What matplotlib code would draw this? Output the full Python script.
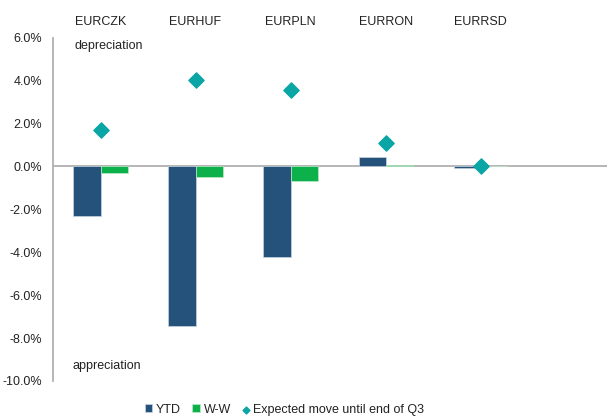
import matplotlib.pyplot as plt
import numpy as np
from matplotlib.ticker import FuncFormatter

plt.rcParams["font.family"] = ["Liberation Sans", "DejaVu Sans"]

pairs = ["EURCZK", "EURHUF", "EURPLN", "EURRON", "EURRSD"]
ytd = [-2.31, -7.44, -4.22, 0.44, -0.05]
ww = [-0.30, -0.49, -0.68, 0.05, 0.0]
expected = [1.70, 4.03, 3.57, 1.10, 0.0]

YTD_COLOR = "#24527a"
WW_COLOR = "#0db14b"
EXP_COLOR = "#0aa5a5"
GRID_GRAY = "#b0b0b0"
FS = 9


def main() -> None:
    fig = plt.figure(figsize=(6.07, 4.19), dpi=100)
    ax = fig.add_axes([0.0873, 0.0907, 0.9127, 0.8191])

    x = np.arange(len(pairs))
    width = 0.285
    b1 = ax.bar(x - width / 2, ytd, width, color=YTD_COLOR, edgecolor="#c8d4e0",
                linewidth=0.5, label="YTD", zorder=2)
    b2 = ax.bar(x + width / 2, ww, width, color=WW_COLOR, edgecolor="#bfe8cc",
                linewidth=0.5, label="W-W", zorder=2)
    sc = ax.scatter(x, expected, marker="D", s=60, color=EXP_COLOR, zorder=3,
                    label="Expected move until end of Q3")

    ax.axhline(0, color=GRID_GRAY, linewidth=1.3, zorder=1)
    ax.set_xlim(-0.5, 5.33)
    ax.set_ylim(-10, 6)
    ax.set_yticks(np.arange(-10, 7, 2))
    ax.yaxis.set_major_formatter(FuncFormatter(lambda v, _: f"{v:.1f}%"))
    ax.tick_params(axis="y", length=0, labelsize=FS, pad=8, colors="#222222")
    ax.set_xticks([])

    for side in ["top", "right", "bottom"]:
        ax.spines[side].set_visible(False)
    ax.spines["left"].set_color(GRID_GRAY)
    ax.spines["left"].set_linewidth(1.3)

    for i, name in enumerate(pairs):
        ax.text(i, 6.75, name, ha="center", va="center", fontsize=FS,
                color="#222222")

    ax.text(-0.27, 5.6, "depreciation", ha="left", va="center", fontsize=FS,
            color="#222222")
    ax.text(-0.29, -9.3, "appreciation", ha="left", va="center", fontsize=FS,
            color="#222222")

    leg = fig.legend([b1, b2, sc], [b1.get_label(), b2.get_label(), sc.get_label()],
                     loc="center", bbox_to_anchor=(0.469, 0.022),
                     ncol=3, frameon=False, fontsize=FS, handlelength=0.6,
                     handleheight=0.6, handletextpad=0.3, columnspacing=0.9,
                     markerscale=0.45)
    for t in leg.get_texts():
        t.set_color("#222222")

    fig.savefig("out.png", dpi=100)
    plt.close(fig)


if __name__ == "__main__":
    main()
